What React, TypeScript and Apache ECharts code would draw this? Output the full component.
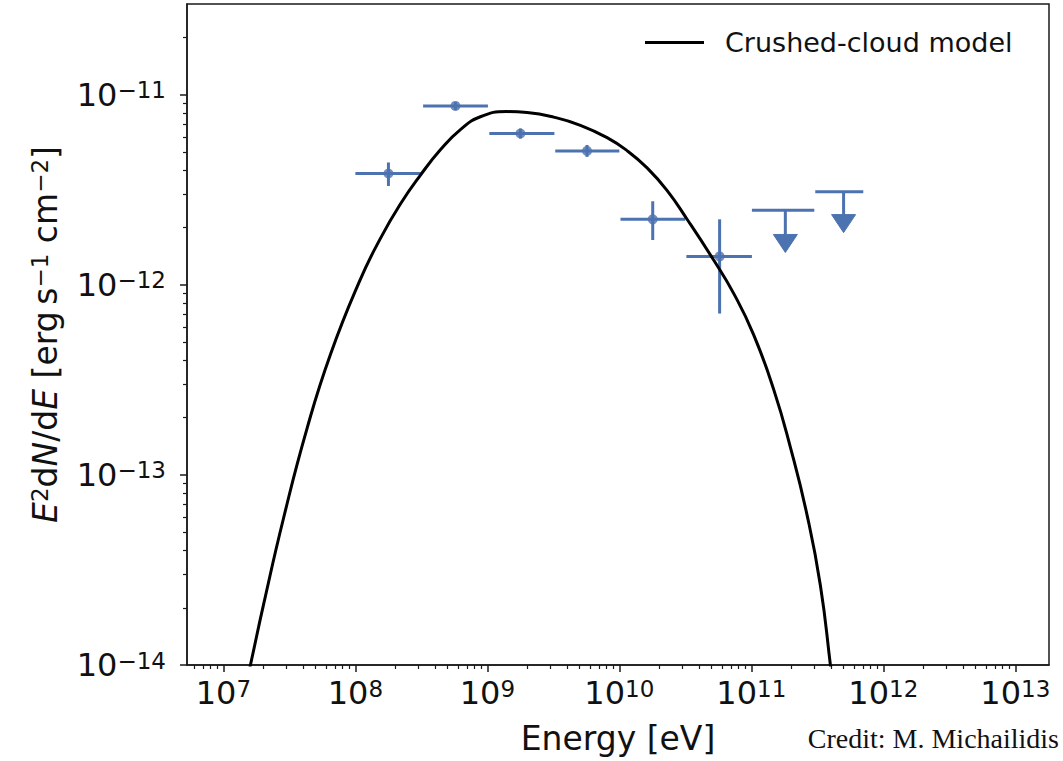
import React, { useEffect, useRef } from "react";
import * as echarts from "echarts";

// ---- axis ranges and ticks ----
const X_MIN = 5.3e6;
const X_MAX = 1.8e13;
const Y_MIN = 1e-14;
const Y_MAX = 3e-11;
const xMajorTicks = [1e7, 1e8, 1e9, 1e10, 1e11, 1e12, 1e13];
const yMajorTicks = [1e-14, 1e-13, 1e-12, 1e-11];
const minorMultipliers = [2, 3, 4, 5, 6, 7, 8, 9];

// ---- crushed-cloud model curve ----
const modelEnergy = [
  1.469e7, 1.603e7, 2.018e7, 2.864e7, 4.305e7, 6.471e7, 1.072e8, 1.545e8, 2.193e8, 3.105e8,
  4.406e8, 6.252e8, 8.851e8, 1.409e9, 2.0e9, 3.177e9, 5.07e9, 8.072e9, 1.143e10, 1.622e10,
  2.296e10, 3.258e10, 5.152e10, 7.345e10, 1.04e11, 1.476e11, 1.977e11, 2.642e11, 3.334e11,
  3.972e11, 4.178e11,
];
const modelFlux = [
  7.59e-15, 1.0e-14, 2.089e-14, 5.97e-14, 1.758e-13, 4.305e-13, 1.04e-12, 1.75e-12, 2.661e-12,
  3.767e-12, 5.129e-12, 6.546e-12, 7.656e-12, 8.147e-12, 8.054e-12, 7.621e-12, 6.902e-12,
  5.943e-12, 5.082e-12, 4.121e-12, 3.141e-12, 2.213e-12, 1.358e-12, 9.016e-13, 5.47e-13,
  2.818e-13, 1.396e-13, 6.166e-14, 2.63e-14, 1.0e-14, 7.244e-15,
];

// ---- measured flux points ----
const pointEnergy = [1.78e8, 5.73e8, 1.78e9, 5.69e9, 1.79e10, 5.75e10];
const pointEnergyLow = [1.0e8, 3.26e8, 1.035e9, 3.27e9, 1.02e10, 3.22e10];
const pointEnergyHigh = [3.16e8, 1.01e9, 3.22e9, 1.0e10, 3.16e10, 1.01e11];
const pointFlux = [3.85e-12, 8.73e-12, 6.25e-12, 5.06e-12, 2.21e-12, 1.41e-12];
const pointFluxLow = [3.31e-12, 8.31e-12, 5.88e-12, 4.71e-12, 1.72e-12, 7.06e-13];
const pointFluxHigh = [4.4e-12, 9.17e-12, 6.64e-12, 5.44e-12, 2.75e-12, 2.21e-12];

// ---- upper limits ----
const ulEnergy = [1.81e11, 5.0e11];
const ulEnergyLow = [1.01e11, 3.05e11];
const ulEnergyHigh = [3.0e11, 7.05e11];
const ulFlux = [2.47e-12, 3.09e-12];
const ulArrowBase = [1.84e-12, 2.34e-12];

const SERIES_NAME = "Crushed-cloud model";
const BLUE = "#4C72B0";
const AX = "#1a1a1a";
const TEXT = "#111111";
const FONT = "'DejaVu Sans', 'Noto Sans', sans-serif";

function minorTicks(lo: number, hi: number, d0: number, d1: number) {
  const out: number[] = [];
  for (let d = d0; d <= d1; d++) {
    for (const m of minorMultipliers) {
      const v = m * Math.pow(10, d);
      if (v > lo && v < hi) out.push(v);
    }
  }
  return out;
}

function powLabel(v: number) {
  const e = Math.round(Math.log10(v));
  const s = e < 0 ? "\u2212" + Math.abs(e) : String(e);
  return `{b|10}{s|${s}}`;
}

const tickRich = {
  b: { fontSize: 32, fontFamily: FONT, color: TEXT, lineHeight: 32, verticalAlign: "bottom" },
  s: {
    fontSize: 23,
    fontFamily: FONT,
    color: TEXT,
    lineHeight: 23,
    verticalAlign: "top",
    padding: [0, 0, 16, 0],
  },
};

export default function App() {
  const ref = useRef<HTMLDivElement>(null);

  useEffect(() => {
    document.body.style.margin = "0";
    if (!ref.current) return;
    const chart = echarts.init(ref.current, null, { renderer: "svg" });

    const lineData = modelEnergy.map((e, i) => [e, modelFlux[i]]);
    const pointData = pointEnergy.map((e, i) => [e, pointFlux[i]]);
    const errData = pointEnergy.map((e, i) => [
      e,
      pointFlux[i],
      pointEnergyLow[i],
      pointEnergyHigh[i],
      pointFluxLow[i],
      pointFluxHigh[i],
    ]);
    const ulData = ulEnergy.map((e, i) => [e, ulFlux[i], ulEnergyLow[i], ulEnergyHigh[i], ulArrowBase[i]]);

    const xMinor = minorTicks(X_MIN, X_MAX, 6, 13);
    const yMinor = minorTicks(Y_MIN, Y_MAX, -15, -11);

    const barStyle = { stroke: BLUE, lineWidth: 3 };

    chart.setOption({
      animation: false,
      backgroundColor: "#ffffff",
      grid: {
        left: 187,
        top: 4,
        width: 862,
        height: 661,
        show: true,
        borderColor: AX,
        borderWidth: 1.5,
        backgroundColor: "transparent",
      },
      legend: {
        data: [{ name: SERIES_NAME, icon: "rect" }],
        left: 640,
        top: 24,
        itemWidth: 59,
        itemHeight: 3,
        selectedMode: false,
        itemStyle: { color: "#000000" },
        formatter: (n: string) => `{g|}{t|${n}}`,
        textStyle: {
          rich: {
            g: { width: 16 },
            t: { fontSize: 27, fontFamily: FONT, color: TEXT },
          },
        },
      },
      xAxis: [
        {
          type: "log",
          logBase: 10,
          min: X_MIN,
          max: X_MAX,
          position: "bottom",
          axisLine: { show: true, onZero: false, lineStyle: { color: AX, width: 1.5 } },
          axisTick: { show: true, length: 7, customValues: xMajorTicks, lineStyle: { color: AX, width: 1.5 } },
          axisLabel: { customValues: xMajorTicks, formatter: powLabel, margin: 12, rich: tickRich },
          splitLine: { show: false },
          name: "Energy [eV]",
          nameLocation: "middle",
          nameGap: 57,
          nameTextStyle: { fontSize: 33, fontFamily: FONT, color: TEXT },
        },
        {
          type: "log",
          logBase: 10,
          min: X_MIN,
          max: X_MAX,
          position: "bottom",
          axisLine: { show: false },
          axisTick: { show: true, length: 4, customValues: xMinor, lineStyle: { color: AX, width: 1.2 } },
          axisLabel: { show: false },
          splitLine: { show: false },
        },
      ],
      yAxis: [
        {
          type: "log",
          logBase: 10,
          min: Y_MIN,
          max: Y_MAX,
          position: "left",
          axisLine: { show: true, onZero: false, lineStyle: { color: AX, width: 1.5 } },
          axisTick: { show: true, length: 7, customValues: yMajorTicks, lineStyle: { color: AX, width: 1.5 } },
          axisLabel: { customValues: yMajorTicks, formatter: powLabel, margin: 21, rich: tickRich },
          splitLine: { show: false },
          name:
            "{i|E}{s|2}{r|d}{i|N}{r|/d}{i|E}{r| [erg\u2009s}{s|\u22121}{r| cm}{s|\u22122}{r|]}",
          nameLocation: "middle",
          nameRotate: 90,
          nameGap: 116,
          nameTextStyle: {
            fontSize: 33,
            fontFamily: FONT,
            color: TEXT,
            rich: {
              i: { fontSize: 33, fontFamily: FONT, color: TEXT, fontStyle: "italic", lineHeight: 33, verticalAlign: "bottom" },
              r: { fontSize: 33, fontFamily: FONT, color: TEXT, lineHeight: 33, verticalAlign: "bottom" },
              s: { fontSize: 23, fontFamily: FONT, color: TEXT, lineHeight: 23, verticalAlign: "top", padding: [0, 0, 14, 0] },
            },
          },
        },
        {
          type: "log",
          logBase: 10,
          min: Y_MIN,
          max: Y_MAX,
          position: "left",
          axisLine: { show: false },
          axisTick: { show: true, length: 4, customValues: yMinor, lineStyle: { color: AX, width: 1.2 } },
          axisLabel: { show: false },
          splitLine: { show: false },
        },
      ],
      series: [
        {
          type: "custom",
          name: "errors",
          xAxisIndex: 0,
          yAxisIndex: 0,
          z: 2,
          encode: { x: 0, y: 1 },
          data: errData,
          renderItem: (_p: any, api: any) => {
            const x = api.value(0);
            const y = api.value(1);
            const pL = api.coord([api.value(2), y]);
            const pR = api.coord([api.value(3), y]);
            const pB = api.coord([x, api.value(4)]);
            const pT = api.coord([x, api.value(5)]);
            return {
              type: "group",
              children: [
                { type: "line", shape: { x1: pL[0], y1: pL[1], x2: pR[0], y2: pR[1] }, style: barStyle },
                { type: "line", shape: { x1: pB[0], y1: pB[1], x2: pT[0], y2: pT[1] }, style: barStyle },
              ],
            };
          },
        },
        {
          type: "custom",
          name: "upper limits",
          xAxisIndex: 0,
          yAxisIndex: 0,
          z: 2,
          encode: { x: 0, y: 1 },
          data: ulData,
          renderItem: (_p: any, api: any) => {
            const x = api.value(0);
            const y = api.value(1);
            const pL = api.coord([api.value(2), y]);
            const pR = api.coord([api.value(3), y]);
            const pC = api.coord([x, y]);
            const pBase = api.coord([x, api.value(4)]);
            const headH = 18;
            const headW = 12;
            return {
              type: "group",
              children: [
                { type: "line", shape: { x1: pL[0], y1: pL[1], x2: pR[0], y2: pR[1] }, style: barStyle },
                { type: "line", shape: { x1: pC[0], y1: pC[1], x2: pBase[0], y2: pBase[1] }, style: barStyle },
                {
                  type: "polygon",
                  shape: {
                    points: [
                      [pBase[0] - headW, pBase[1]],
                      [pBase[0] + headW, pBase[1]],
                      [pBase[0], pBase[1] + headH],
                    ],
                  },
                  style: { fill: BLUE, stroke: BLUE, lineWidth: 1 },
                },
              ],
            };
          },
        },
        {
          type: "scatter",
          name: "points",
          xAxisIndex: 0,
          yAxisIndex: 0,
          z: 3,
          symbol: "circle",
          symbolSize: 10,
          itemStyle: { color: BLUE },
          data: pointData,
        },
        {
          type: "line",
          name: SERIES_NAME,
          xAxisIndex: 0,
          yAxisIndex: 0,
          z: 4,
          symbol: "none",
          showSymbol: false,
          smooth: 0.5,
          clip: true,
          lineStyle: { color: "#000000", width: 3 },
          itemStyle: { color: "#000000" },
          data: lineData,
        },
      ],
      graphic: [
        {
          type: "text",
          right: 4,
          top: 724,
          style: {
            text: "Credit: M. Michailidis",
            font: "28px 'Liberation Serif', 'DejaVu Serif', serif",
            fill: TEXT,
          },
        },
      ],
    });

    return () => chart.dispose();
  }, []);

  return (
    <div
      ref={ref}
      style={{ position: "absolute", left: 0, top: 0, width: 1063, height: 761, background: "#fff" }}
    />
  );
}
